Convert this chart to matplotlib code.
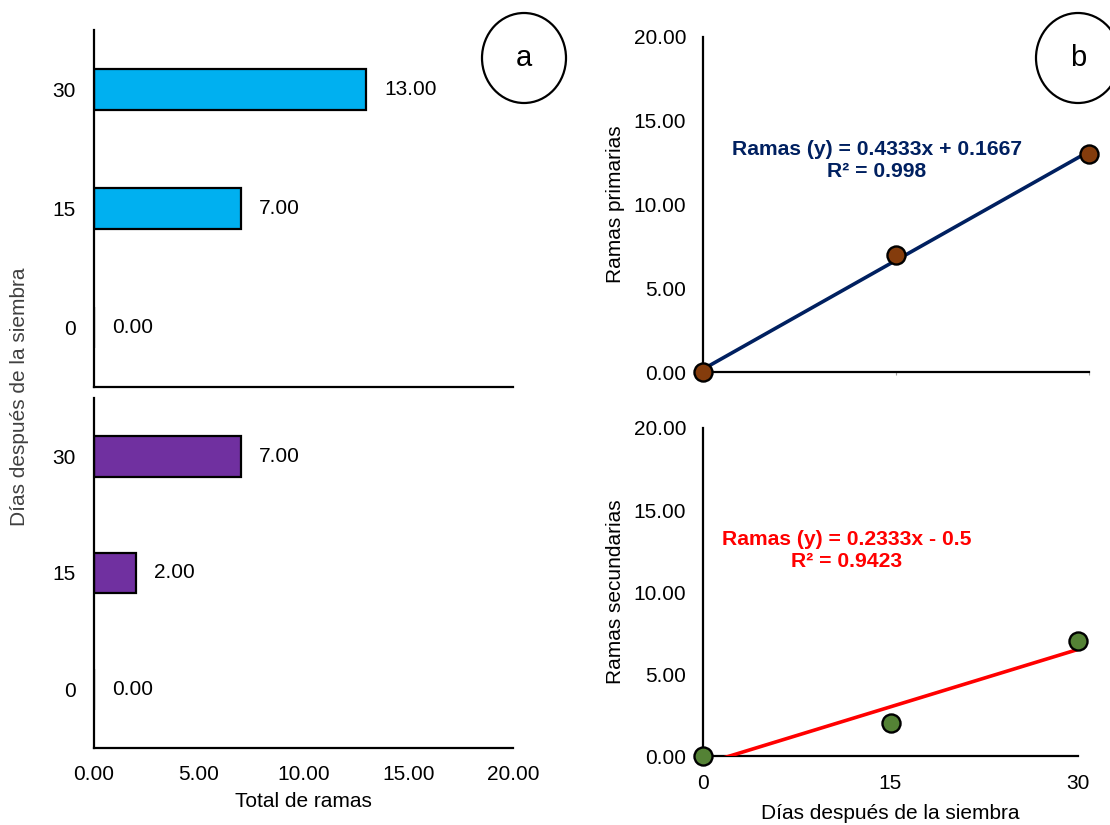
import numpy as np
import matplotlib
matplotlib.use("Agg")
import matplotlib.pyplot as plt
from matplotlib.patches import Ellipse

plt.rcParams['font.family'] = ['Liberation Sans', 'DejaVu Sans']
plt.rcParams['font.size'] = 15

# datos
dias = [0, 15, 30]
dias_txt = ['0', '15', '30']
ramas_primarias = [0.0, 7.0, 13.0]
ramas_secundarias = [0.0, 2.0, 7.0]

# ajuste lineal (coeficientes mostrados en las ecuaciones)
pend_prim, inter_prim = 0.4333, 0.1667
pend_sec, inter_sec = 0.2333, -0.5
eq_prim = "Ramas (y) = 0.4333x + 0.1667\nR² = 0.998"
eq_sec = "Ramas (y) = 0.2333x - 0.5\nR² = 0.9423"

col_prim_bar = '#00B0F0'
col_sec_bar = '#7030A0'
col_prim_pt = '#843C0C'
col_sec_pt = '#548235'
col_prim_line = '#002060'
col_sec_line = '#FF0000'

W, H = 1110, 825
fig = plt.figure(figsize=(W / 100, H / 100), dpi=100)


def px_axes(x0, y0, x1, y1):
    # caja en pixeles (origen arriba-izquierda) -> fraccion de figura
    return fig.add_axes([x0 / W, 1 - y1 / H, (x1 - x0) / W, (y1 - y0) / H])


def estilo(ax):
    for s in ['top', 'right']:
        ax.spines[s].set_visible(False)
    for s in ['left', 'bottom']:
        ax.spines[s].set_linewidth(1.6)
        ax.spines[s].set_color('black')
    ax.tick_params(length=0)


# ---- a) barras horizontales
ax1 = px_axes(94, 30, 513, 387)
ax2 = px_axes(94, 398, 513, 748)
for ax, vals, col in [(ax1, ramas_primarias, col_prim_bar), (ax2, ramas_secundarias, col_sec_bar)]:
    pos = np.arange(len(dias))
    ax.barh(pos, vals, height=0.35, color=col, edgecolor='black', linewidth=1.6)
    for p, v in zip(pos, vals):
        ax.annotate(f"{v:.2f}", (v, p), xytext=(13, 0), textcoords='offset points',
                    ha='left', va='center', fontsize=15)
    ax.set_yticks(pos)
    ax.set_yticklabels(dias_txt)
    ax.set_ylim(-0.5, 2.5)
    ax.set_xlim(0, 20)
    ax.set_xticks([0, 5, 10, 15, 20])
    ax.xaxis.set_major_formatter(matplotlib.ticker.FormatStrFormatter('%.2f'))
    estilo(ax)
    ax.tick_params(axis='y', pad=13)
    ax.tick_params(axis='x', pad=12)
ax1.set_xticklabels([])
ax2.set_xlabel("Total de ramas", fontsize=15, labelpad=6)
fig.text(20 / W, 1 - 397 / H, "Días después de la siembra", rotation=90,
         ha='center', va='center', fontsize=15, color='#404040')

# ---- b) dispersion con linea de tendencia
ax3 = px_axes(703, 37, 1089, 372)
ax4 = px_axes(703, 428, 1078, 756)
xs = np.array([0, 30])
for ax, vals, pt, ln, m, b, eq, ylab, ex, ey in [
        (ax3, ramas_primarias, col_prim_pt, col_prim_line, pend_prim, inter_prim, eq_prim,
         "Ramas primarias", 13.5, 12.6),
        (ax4, ramas_secundarias, col_sec_pt, col_sec_line, pend_sec, inter_sec, eq_sec,
         "Ramas secundarias", 11.5, 12.55)]:
    ax.plot(xs, m * xs + b, color=ln, lw=2.6, solid_capstyle='butt', zorder=3)
    ax.plot(dias, vals, 'o', ms=13, mfc=pt, mec='black', mew=1.7, clip_on=False, zorder=4)
    ax.set_xlim(0, 30)
    ax.set_ylim(0, 20)
    ax.set_yticks([0, 5, 10, 15, 20])
    ax.yaxis.set_major_formatter(matplotlib.ticker.FormatStrFormatter('%.2f'))
    ax.set_xticks(dias)
    estilo(ax)
    ax.tick_params(axis='y', pad=12)
    ax.tick_params(axis='x', pad=13)
    ax.set_ylabel(ylab, fontsize=15, labelpad=6)
    ax.text(ex, ey, eq, color=ln, fontsize=15.2, fontweight='bold', ha='center',
            va='center', multialignment='center', linespacing=1.2)
ax3.set_xticklabels([])
ax3.tick_params(axis='x', length=2, color='#A0A0A0')
ax4.set_xticklabels(dias_txt)
ax4.set_xlabel("Días después de la siembra", fontsize=15, labelpad=8)

# etiquetas de panel
for cx, letra in [(524, 'a'), (1078, 'b')]:
    fig.patches.append(Ellipse((cx / W, 1 - 58 / H), 84 / W, 90 / H, transform=fig.transFigure,
                               fill=False, edgecolor='black', linewidth=1.6))
    fig.text(cx / W, 1 - 58 / H, letra, ha='center', va='center', fontsize=21)

fig.savefig("out.png", dpi=100)
